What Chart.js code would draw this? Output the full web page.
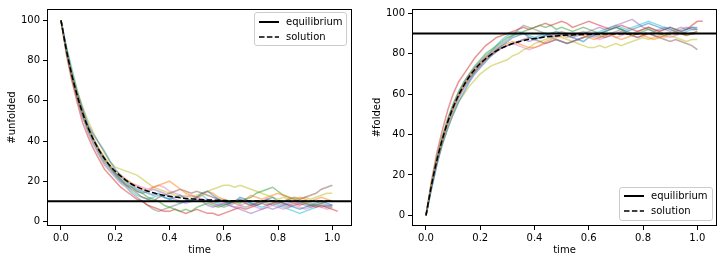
<!DOCTYPE html>
<html>
<head>
<meta charset="utf-8">
<script src="https://cdn.jsdelivr.net/npm/chart.js@4.4.1/dist/chart.umd.min.js"></script>
<style>
  html, body { margin:0; padding:0; background:#fff; }
  body { width:723px; height:263px; position:relative; overflow:hidden; font-family:"DejaVu Sans", sans-serif; }
  .pane { position:absolute; top:0; }
  .legend { position:absolute; background:rgba(255,255,255,0.8); border:1px solid #cccccc; border-radius:3px; box-sizing:border-box; font-size:10px; color:#000; }
  .legend .row { position:absolute; left:0; height:12px; line-height:12px; white-space:nowrap; }
  .legend svg { position:absolute; left:3px; top:0; }
  .legend span { position:absolute; left:31px; top:0; }
</style>
</head>
<body>
<div class="pane" style="left:0;width:361px;height:263px;"><canvas id="c1" width="361" height="263"></canvas></div>
<div class="pane" style="left:361px;width:362px;height:263px;"><canvas id="c2" width="362" height="263"></canvas></div>

<div class="legend" style="left:254px;top:12px;width:93px;height:34px;">
  <div class="row" style="top:3px;"><svg width="22" height="12"><line x1="1" y1="6" x2="21" y2="6" stroke="#000" stroke-width="2"/></svg><span>equilibrium</span></div>
  <div class="row" style="top:18px;"><svg width="22" height="12"><line x1="1" y1="6" x2="21" y2="6" stroke="#000" stroke-width="1.5" stroke-dasharray="5.5,2.4"/></svg><span>solution</span></div>
</div>
<div class="legend" style="left:619px;top:187px;width:94px;height:34px;">
  <div class="row" style="top:2px;"><svg width="22" height="12"><line x1="1" y1="6" x2="21" y2="6" stroke="#000" stroke-width="2"/></svg><span>equilibrium</span></div>
  <div class="row" style="top:17px;"><svg width="22" height="12"><line x1="1" y1="6" x2="21" y2="6" stroke="#000" stroke-width="1.5" stroke-dasharray="5.5,2.4"/></svg><span>solution</span></div>
</div>

<script>
// ---------------- data ----------------
const times = [0,0.02,0.04,0.06,0.08,0.10,0.12,0.14,0.16,0.18,
  0.20,0.22,0.24,0.26,0.28,0.30,0.32,0.34,0.36,0.38,
  0.40,0.42,0.44,0.46,0.48,0.50,0.52,0.54,0.56,0.58,
  0.60,0.62,0.64,0.66,0.68,0.70,0.72,0.74,0.76,0.78,
  0.80,0.82,0.84,0.86,0.88,0.90,0.92,0.94,0.96,0.98,
  1.00,1.02];

const xTicks = [0.0,0.2,0.4,0.6,0.8,1.0];
const yTicks = [0,20,40,60,80,100];

const equilibriumUnfolded = 10;
const equilibriumFolded = 90;

const solutionUnfolded = [100,85.2,72.8,62.5,53.8,46.6,40.6,35.5,31.3,27.8,
  24.9,22.5,20.4,18.6,17.2,16.0,15.0,14.2,13.5,12.9,
  12.5,12.1,11.7,11.4,11.2,11.0,10.8,10.7,10.6,10.5,
  10.4,10.3,10.3,10.2,10.2,10.2,10.1,10.1,10.1,10.1,
  10.1,10.0,10.0,10.0,10.0,10.0,10.0,10.0,10.0,10.0,
  10.0];

const solutionFolded = [0,14.8,27.2,37.5,46.2,53.4,59.4,64.5,68.7,72.2,
  75.1,77.5,79.6,81.4,82.8,84.0,85.0,85.8,86.5,87.1,
  87.5,87.9,88.3,88.6,88.8,89.0,89.2,89.3,89.4,89.5,
  89.6,89.7,89.7,89.8,89.8,89.8,89.9,89.9,89.9,89.9,
  89.9,90.0,90.0,90.0,90.0,90.0,90.0,90.0,90.0,90.0,
  90.0];

// simulated runs, #unfolded
const unfolded0 = [100,86,74,64,56,48,43,39,35,30, 26,23,20,18,16,15,14,13,14,12, 11,12,13,11,10,12,14,15,13,11, 10,9,10,12,11,9,8,9,11,12, 10,9,8,7,6,7,8,9,10,9, 8];
const unfolded1 = [100,85,73,63,54,47,41,36,31,28, 25,23,21,19,17,16,15,17,18,19, 20,18,16,14,13,12,13,15,14,12, 11,10,9,10,11,13,12,11,12,13, 14,13,12,11,12,11,10,11,12,11, 10];
const unfolded2 = [100,84,72,62,53,46,40,35,30,27, 24,21,19,17,15,14,12,11,10,8, 7,6,5,6,5,7,8,9,8,7, 8,9,10,9,11,12,14,15,16,17, 15,13,12,11,10,9,8,8,9,10, 10];
const unfolded3 = [100,83,70,59,49,42,36,31,26,23, 20,17,15,13,11,10,8,7,6,5, 5,6,5,4,5,6,5,4,4,3, 4,5,6,7,6,7,8,9,8,9, 10,9,8,9,8,9,8,7,8,7, 6,5];
const unfolded4 = [100,85,72,61,52,45,39,34,29,26, 23,20,18,17,15,14,15,16,15,14, 12,11,10,9,10,11,10,8,7,8, 9,8,7,6,5,4,5,6,7,6, 7,8,9,10,9,8,7,8,9,8, 8];
const unfolded5 = [100,86,73,62,54,47,41,36,32,28, 24,21,18,16,14,12,11,10,12,13, 14,15,16,15,14,15,14,13,12,11, 10,9,10,11,9,8,9,10,11,10, 9,10,11,12,11,12,13,14,16,17, 18];
const unfolded6 = [100,85,73,63,55,47,41,35,31,27, 24,22,20,19,18,17,16,17,18,17, 15,14,13,12,13,12,11,10,9,8, 9,8,7,8,9,8,7,6,7,8, 7,6,7,8,7,6,7,8,7,6, 7];
const unfolded7 = [100,84,71,61,52,44,38,33,28,25, 22,19,17,14,12,10,8,6,5,6, 7,8,9,10,11,12,11,10,9,8, 7,8,9,8,7,8,9,10,9,8, 9,8,7,8,9,10,9,8,7,8, 7];
const unfolded8 = [100,86,75,65,57,50,44,39,34,30, 27,26,25,24,23,21,19,17,16,15, 14,13,12,13,12,13,14,15,16,17, 18,18,17,18,17,16,15,14,13,12, 11,12,11,10,11,12,11,12,13,14, 14];
const unfolded9 = [100,87,76,65,55,47,41,36,31,27, 23,20,18,15,13,12,11,12,13,12, 11,10,9,10,11,12,13,11,10,9, 8,9,10,11,10,9,8,7,8,9, 8,7,6,5,4,5,6,7,8,7, 8];

// simulated runs, #folded
const folded0 = [0,13,25,35,43,50,56,61,66,70, 73,76,79,82,84,86,88,89,90,88, 87,88,89,90,91,90,89,88,87,86, 88,89,90,91,92,93,92,91,92,93, 94,95,94,93,92,93,92,91,92,93, 93];
const folded1 = [0,15,27,37,46,53,59,64,69,72, 75,78,80,82,84,85,86,85,84,83, 83,84,86,87,88,89,88,89,90,89, 88,87,88,89,90,88,87,88,89,90, 89,88,87,88,89,90,91,90,89,90, 91];
const folded2 = [0,16,29,39,48,55,61,66,70,74, 77,80,82,84,86,88,89,90,91,92, 93,94,93,94,92,93,92,91,92,93, 92,91,90,91,92,93,92,90,89,90, 91,92,91,90,89,90,91,90,89,90, 91];
const folded3 = [0,17,31,42,52,60,66,70,74,78, 81,84,86,88,89,90,91,92,93,92, 93,94,95,94,95,96,95,93,94,95, 96,95,94,93,92,93,94,93,92,91, 92,93,92,91,92,93,92,91,92,94, 96,96];
const folded4 = [0,14,27,38,47,55,61,66,70,73, 76,78,80,82,83,84,85,86,87,86, 87,88,89,88,89,90,89,88,89,90, 91,92,93,92,93,94,95,96,97,95, 93,92,91,92,93,92,91,92,93,92, 92];
const folded5 = [0,15,28,38,46,53,59,64,68,71, 74,77,79,81,83,84,85,86,87,88, 87,86,85,86,87,86,85,86,87,88, 89,90,89,88,89,90,91,90,89,88, 89,90,89,88,87,86,87,86,85,84, 82];
const folded6 = [0,14,26,36,45,52,58,63,67,71, 74,77,79,81,83,84,85,84,83,82, 83,84,85,86,87,86,85,86,87,88, 89,88,87,88,89,88,89,90,89,88, 89,90,89,88,89,88,89,90,89,90, 90];
const folded7 = [0,15,28,38,47,54,60,65,69,73, 76,79,81,83,85,87,89,92,94,93, 92,91,90,89,90,91,90,89,90,91, 90,89,88,89,90,91,92,91,90,91, 92,93,92,91,92,91,92,93,92,93, 92];
const folded8 = [0,14,26,35,43,50,56,60,64,67, 70,72,74,75,76,77,79,80,82,83, 85,86,87,88,89,88,87,86,85,84, 83,83,84,83,84,85,84,85,86,87, 88,87,88,89,88,89,88,87,86,87, 87];
const folded9 = [0,13,25,36,45,52,58,63,67,71, 75,78,81,84,87,89,90,91,90,89, 88,89,90,88,87,86,85,86,87,88, 89,90,91,92,93,94,93,92,93,94, 95,96,95,94,93,92,91,90,91,92, 92];

const runColors = ['#1f77b4','#ff7f0e','#2ca02c','#d62728','#9467bd','#8c564b','#e377c2','#7f7f7f','#bcbd22','#17becf'];

// ---------------- drawing ----------------
function hexA(hex, a){
  const n = parseInt(hex.slice(1),16);
  return `rgba(${(n>>16)&255},${(n>>8)&255},${n&255},${a})`;
}
function toXY(vals){ return vals.map((v,i)=>({x:times[i], y:v})); }

const framePlugin = {
  id:'frame',
  afterDraw(chart){
    const {ctx, chartArea:a} = chart;
    ctx.save();
    ctx.strokeStyle = '#000';
    ctx.lineWidth = 1;
    ctx.strokeRect(Math.round(a.left)+0.5, Math.round(a.top)+0.5, Math.round(a.right-a.left)-1, Math.round(a.bottom-a.top)-1);
    ctx.restore();
  }
};

function makeChart(id, o){
  const datasets = o.runs.map((r,i)=>({
    data: toXY(r), borderColor: hexA(runColors[i],0.5), borderWidth:1.5,
    pointRadius:0, fill:false, tension:0, order:3
  }));
  datasets.push({
    data:[{x:o.xMin,y:o.eq},{x:o.xMax,y:o.eq}], borderColor:'#000', borderWidth:2,
    pointRadius:0, fill:false, order:2
  });
  datasets.push({
    data: toXY(o.sol), borderColor:'#000', borderWidth:1.5, borderDash:[5.5,2.4],
    pointRadius:0, fill:false, cubicInterpolationMode:'monotone', order:1
  });
  const tickFont = {family:'DejaVu Sans', size:10};
  return new Chart(document.getElementById(id), {
    type:'line',
    data:{datasets},
    plugins:[framePlugin],
    options:{
      responsive:false, animation:false, events:[],
      layout:{padding:{top:o.padTop, right:o.padRight, left:0, bottom:0}},
      plugins:{legend:{display:false}, tooltip:{enabled:false}},
      scales:{
        x:{
          type:'linear', min:o.xMin, max:o.xMax,
          afterBuildTicks(s){ s.ticks = xTicks.map(v=>({value:v})); },
          afterFit(s){ s.height = 37; },
          ticks:{font:tickFont, color:'#000', padding:2, maxRotation:0, autoSkip:false,
                 callback:v=>Number(v).toFixed(1)},
          grid:{drawOnChartArea:false, drawTicks:true, tickLength:4, color:'#000', tickColor:'#000', tickWidth:1},
          border:{display:false},
          title:{display:true, text:'time', font:tickFont, color:'#000', padding:{top:0,bottom:7}}
        },
        y:{
          type:'linear', min:o.yMin, max:o.yMax,
          afterBuildTicks(s){ s.ticks = yTicks.map(v=>({value:v})); },
          afterFit(s){ s.width = o.yWidth; },
          ticks:{font:tickFont, color:'#000', padding:3, autoSkip:false,
                 callback:v=>String(Math.round(v))},
          grid:{drawOnChartArea:false, drawTicks:true, tickLength:4, color:'#000', tickColor:'#000', tickWidth:1},
          border:{display:false},
          title:{display:true, text:o.yTitle, font:tickFont, color:'#000', padding:{top:o.yTitlePad,bottom:0}}
        }
      }
    }
  });
}

makeChart('c1', {
  runs:[unfolded0,unfolded1,unfolded2,unfolded3,unfolded4,unfolded5,unfolded6,unfolded7,unfolded8,unfolded9],
  sol:solutionUnfolded, eq:equilibriumUnfolded, yTitle:'#unfolded',
  xMin:-0.0516, xMax:1.0726, yMin:-2.3, yMax:105.7,
  yWidth:47, padTop:6, padRight:9, yTitlePad:6
});
makeChart('c2', {
  runs:[folded0,folded1,folded2,folded3,folded4,folded5,folded6,folded7,folded8,folded9],
  sol:solutionFolded, eq:equilibriumFolded, yTitle:'#folded',
  xMin:-0.0516, xMax:1.0726, yMin:-5.24, yMax:102.1,
  yWidth:51, padTop:7, padRight:6, yTitlePad:10
});
</script>
</body>
</html>
